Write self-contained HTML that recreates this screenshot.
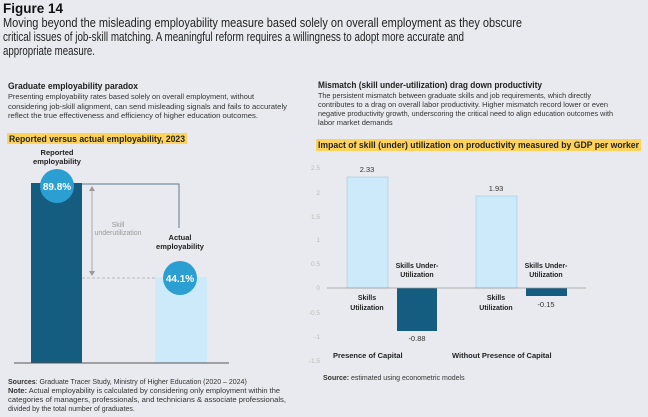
<!DOCTYPE html>
<html><head><meta charset="utf-8"><style>
html,body{margin:0;padding:0;background:#e9eaef;}
svg{display:block;font-family:"Liberation Sans",sans-serif;}
</style></head><body>
<svg width="648" height="417" viewBox="0 0 648 417" xmlns="http://www.w3.org/2000/svg">
<rect width="648" height="417" fill="#e9eaef"/>
<text x="3" y="13" font-size="13.5" font-weight="bold" fill="#111">Figure 14</text>
<g font-size="12.5" fill="#222">
<text x="3" y="27" textLength="519" lengthAdjust="spacingAndGlyphs">Moving beyond the misleading employability measure based solely on overall employment as they obscure</text>
<text x="3" y="41" textLength="461" lengthAdjust="spacingAndGlyphs">critical issues of job-skill matching. A meaningful reform requires a willingness to adopt more accurate and</text>
<text x="3" y="55" textLength="92" lengthAdjust="spacingAndGlyphs">appropriate measure.</text>
</g>
<text x="8" y="89" font-size="9.5" font-weight="bold" fill="#222" textLength="130" lengthAdjust="spacingAndGlyphs">Graduate employability paradox</text>
<g font-size="7.5" fill="#333">
<text x="8" y="99" textLength="246" lengthAdjust="spacingAndGlyphs">Presenting employability rates based solely on overall employment, without</text>
<text x="8" y="109" textLength="279" lengthAdjust="spacingAndGlyphs">considering job-skill alignment, can send misleading signals and fails to accurately</text>
<text x="8" y="118" textLength="250" lengthAdjust="spacingAndGlyphs">reflect the true effectiveness and efficiency of higher education outcomes.</text>
</g>
<rect x="7" y="133" width="180" height="11" fill="#fdd35c"/>
<text x="9" y="142" font-size="9" font-weight="bold" fill="#222" textLength="176" lengthAdjust="spacingAndGlyphs">Reported versus actual employability, 2023</text>
<g font-size="7.5" font-weight="bold" fill="#222" text-anchor="middle">
<text x="57" y="155">Reported</text><text x="57" y="164">employability</text>
<text x="180" y="240">Actual</text><text x="180" y="249">employability</text>
</g>
<rect x="31" y="183" width="51" height="180" fill="#155d80"/>
<rect x="155" y="277" width="52" height="86" fill="#cdeafa"/>
<line x1="14" y1="363" x2="229" y2="363" stroke="#555" stroke-width="1"/>
<polyline points="82,184 179,184 179,228" fill="none" stroke="#5f7b90" stroke-width="1"/>
<line x1="82" y1="278" x2="155" y2="278" stroke="#aaa" stroke-width="0.8" stroke-dasharray="3,2"/>
<line x1="92" y1="190" x2="92" y2="272" stroke="#999" stroke-width="0.8"/>
<polygon points="89,191 95,191 92,186" fill="#999"/><polygon points="89,271 95,271 92,276" fill="#999"/>
<g font-size="7" fill="#999" text-anchor="middle"><text x="118" y="227">Skill</text><text x="118" y="235">underutilization</text></g>
<circle cx="57" cy="186" r="17" fill="#2b9fd2"/>
<circle cx="180" cy="278" r="17" fill="#2b9fd2"/>
<g font-size="10" font-weight="bold" fill="#fff" text-anchor="middle"><text x="57" y="190">89.8%</text><text x="180" y="282">44.1%</text></g>
<g font-size="7" fill="#333">
<text x="8" y="384"><tspan font-weight="bold">Sources</tspan>: Graduate Tracer Study, Ministry of Higher Education (2020 – 2024)</text>
<text x="8" y="393" textLength="272" lengthAdjust="spacingAndGlyphs"><tspan font-weight="bold">Note:</tspan> Actual employability is calculated by considering only employment within the</text>
<text x="8" y="402" textLength="278" lengthAdjust="spacingAndGlyphs">categories of managers, professionals, and technicians &amp; associate professionals,</text>
<text x="8" y="411">divided by the total number of graduates.</text>
</g>
<text x="318" y="88" font-size="9.5" font-weight="bold" fill="#222" textLength="224" lengthAdjust="spacingAndGlyphs">Mismatch (skill under-utilization) drag down productivity</text>
<g font-size="7.5" fill="#333">
<text x="318" y="98" textLength="273" lengthAdjust="spacingAndGlyphs">The persistent mismatch between graduate skills and job requirements, which directly</text>
<text x="318" y="107" textLength="290" lengthAdjust="spacingAndGlyphs">contributes to a drag on overall labor productivity. Higher mismatch record lower or even</text>
<text x="318" y="116" textLength="295" lengthAdjust="spacingAndGlyphs">negative productivity growth, underscoring the critical need to align education outcomes with</text>
<text x="318" y="125">labor market demands</text>
</g>
<rect x="316" y="139" width="325" height="12" fill="#fdd35c"/>
<text x="318" y="148" font-size="9" font-weight="bold" fill="#222" textLength="321" lengthAdjust="spacingAndGlyphs">Impact of skill (under) utilization on productivity measured by GDP per worker</text>
<g font-size="6.5" fill="#bbb" text-anchor="end">
<text x="320" y="170">2.5</text><text x="320" y="195">2</text><text x="320" y="219">1.5</text><text x="320" y="242">1</text><text x="320" y="266">0.5</text><text x="320" y="290">0</text><text x="320" y="315">-0.5</text><text x="320" y="339">-1</text><text x="320" y="363">-1.5</text>
</g>
<rect x="347" y="177" width="41" height="111" fill="#cdeafa" stroke="#9cc7de" stroke-width="0.6"/>
<rect x="397" y="288" width="40" height="43" fill="#155d80"/>
<rect x="476" y="196" width="41" height="92" fill="#cdeafa" stroke="#9cc7de" stroke-width="0.6"/>
<rect x="526" y="288" width="41" height="8" fill="#155d80"/>
<line x1="327" y1="288" x2="586" y2="288" stroke="#999" stroke-width="0.8"/>
<g font-size="7.5" fill="#333" text-anchor="middle">
<text x="367" y="172">2.33</text><text x="417" y="341">-0.88</text><text x="496" y="191">1.93</text><text x="546" y="307">-0.15</text>
</g>
<g font-size="7" font-weight="bold" fill="#222" text-anchor="middle">
<text x="367" y="300">Skills</text><text x="367" y="310">Utilization</text>
<text x="496" y="300">Skills</text><text x="496" y="310">Utilization</text>
<text x="417" y="268">Skills Under-</text><text x="417" y="277">Utilization</text>
<text x="546" y="268">Skills Under-</text><text x="546" y="277">Utilization</text>
</g>
<g font-size="7.5" font-weight="bold" fill="#222">
<text x="333" y="358">Presence of Capital</text><text x="452" y="358">Without Presence of Capital</text>
</g>
<text x="323" y="380" font-size="7" fill="#333"><tspan font-weight="bold">Source:</tspan> estimated using econometric models</text>
</svg>
</body></html>
